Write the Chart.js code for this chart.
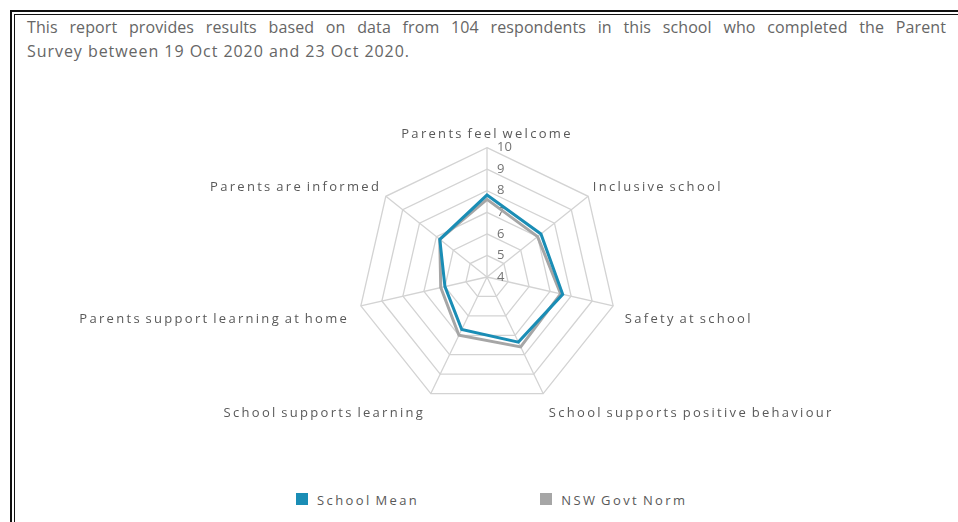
<!DOCTYPE html>
<html>
<head>
<meta charset="utf-8">
<script src="https://cdn.jsdelivr.net/npm/chart.js@4"></script>
<style>
  html, body { margin: 0; padding: 0; background: #ffffff; overflow: hidden; }
  #page { width: 958px; height: 522px; position: relative; overflow: hidden; font-family: "Open Sans", sans-serif; background: #fff; }
  .frame-outer { position: absolute; left: 10px; top: 10px; width: 1000px; height: 600px; border: 2px solid #111; border-right: none; border-bottom: none; box-sizing: border-box; }
  .frame-inner { position: absolute; left: 14px; top: 14px; width: 1000px; height: 600px; border: 1px solid #111; border-right: none; border-bottom: none; box-sizing: border-box; }
  .intro { position: absolute; left: 27px; top: 15px; color: #666; font-size: 16px; line-height: 24px; }
  .intro .l1 { width: 919px; text-align: justify; text-align-last: justify; letter-spacing: 0.1px; white-space: nowrap; }
  .intro .l2 { letter-spacing: 0.95px; white-space: nowrap; }
  #chartWrap { position: absolute; left: 17px; top: 123px; width: 940px; height: 302px; }
  #legend { position: absolute; left: 296px; top: 492px; display: flex; gap: 121px; font-family: "Open Sans", sans-serif; font-size: 13px; color: #595959; letter-spacing: 2.4px; word-spacing: -2px; }
  #legend .item { display: flex; align-items: center; height: 16px; }
  #legend .box { width: 12px; height: 12px; margin-right: 9px; margin-top: -3px; }
</style>
</head>
<body>
<div id="page">
<div class="frame-outer"></div>
<div class="frame-inner"></div>
<div class="intro">
  <div class="l1">This report provides results based on data from 104 respondents in this school who completed the Parent</div>
  <div class="l2">Survey between 19 Oct 2020 and 23 Oct 2020.</div>
</div>
<div id="chartWrap"><canvas id="c" width="940" height="302"></canvas></div>
<div id="legend"></div>
</div>
<script>
const categories = [
  "Parents feel welcome",
  "Inclusive school",
  "Safety at school",
  "School supports positive behaviour",
  "School supports learning",
  "Parents support learning at home",
  "Parents are informed"
];
const schoolMean = [7.8, 7.2, 7.6, 7.35, 6.7, 6.0, 6.8];
const nswGovtNorm = [7.6, 7.0, 7.5, 7.6, 7.0, 6.2, 6.8];
const seriesNames = ["School Mean", "NSW Govt Norm"];
const tickValues = [4, 5, 6, 7, 8, 9, 10];

const BLUE = "#1a8db5";
const GREY = "#a6a6a6";

const spacingPlugin = {
  id: "spacing",
  beforeUpdate(chart) { chart.ctx.letterSpacing = "2.3px"; chart.ctx.wordSpacing = "-2px"; },
  beforeDraw(chart) { chart.ctx.letterSpacing = "2.3px"; chart.ctx.wordSpacing = "-2px"; }
};

const tickPlugin = {
  id: "tickLabels",
  beforeDatasetsDraw(chart) {
    const s = chart.scales.r;
    const ctx = chart.ctx;
    ctx.save();
    ctx.letterSpacing = "0px";
    ctx.wordSpacing = "0px";
    ctx.font = "13px 'Open Sans'";
    ctx.fillStyle = "#737373";
    ctx.textAlign = "left";
    ctx.textBaseline = "middle";
    tickValues.forEach(v => {
      const d = s.getDistanceFromCenterForValue(v);
      ctx.fillText(String(v), s.xCenter + 10, s.yCenter - d);
    });
    ctx.restore();
  }
};

const labelPadding = [6, 6, 12, 13, 13, 12, 6];
const labelLineHeight = [15.6, 10, 22, 15.6, 15.6, 22, 10];

const chart = new Chart(document.getElementById("c"), {
  type: "radar",
  data: {
    labels: categories,
    datasets: [
      { label: seriesNames[0], data: schoolMean, borderColor: BLUE, backgroundColor: BLUE, borderWidth: 3, fill: false, pointRadius: 0, pointHoverRadius: 0, tension: 0 },
      { label: seriesNames[1], data: nswGovtNorm, borderColor: GREY, backgroundColor: GREY, borderWidth: 3, fill: false, pointRadius: 0, pointHoverRadius: 0, tension: 0 }
    ]
  },
  options: {
    responsive: false,
    animation: false,
    devicePixelRatio: 1,
    layout: { padding: 0 },
    plugins: { legend: { display: false }, tooltip: { enabled: false } },
    elements: { line: { borderJoinStyle: "miter" } },
    scales: {
      r: {
        min: 4,
        max: 10,
        ticks: { display: false, stepSize: 1 },
        grid: { color: "#d3d3d3", lineWidth: 1.3, circular: false },
        angleLines: { color: "#d3d3d3", lineWidth: 1.3 },
        pointLabels: {
          color: "#595959",
          font: ctx => ({ family: "'Open Sans'", size: 13, lineHeight: labelLineHeight[ctx.index] + "px" }),
          padding: ctx => labelPadding[ctx.index]
        }
      }
    }
  },
  plugins: [spacingPlugin, tickPlugin]
});

const legend = document.getElementById("legend");
chart.data.datasets.forEach(ds => {
  const item = document.createElement("div");
  item.className = "item";
  const box = document.createElement("span");
  box.className = "box";
  box.style.background = ds.borderColor;
  const txt = document.createElement("span");
  txt.textContent = ds.label;
  item.appendChild(box);
  item.appendChild(txt);
  legend.appendChild(item);
});
</script>
</body>
</html>
